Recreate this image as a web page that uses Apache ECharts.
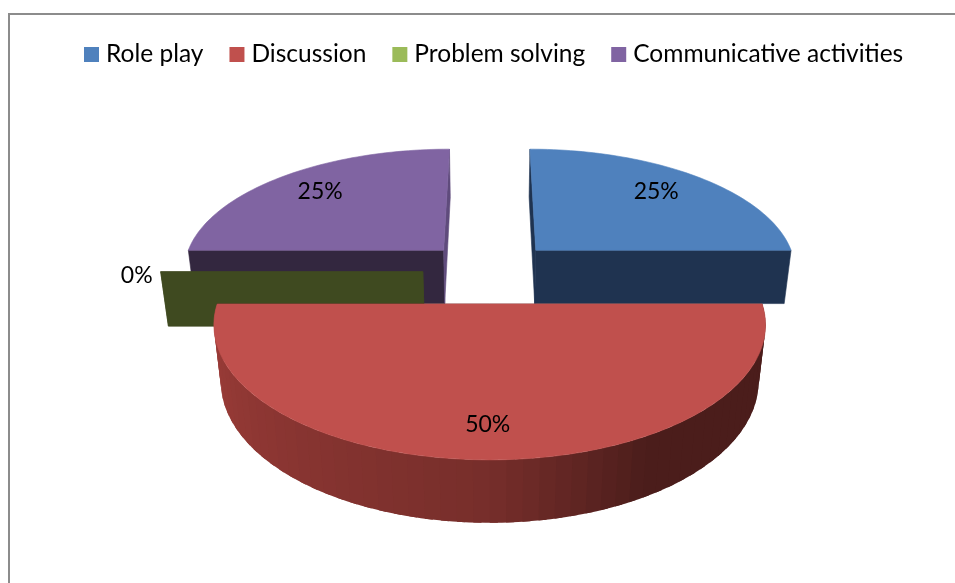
<!DOCTYPE html>
<html>
<head>
<meta charset="utf-8">
<style>html,body{margin:0;padding:0;background:#fff}#c{width:955px;height:583px}</style>
<script src="https://cdn.jsdelivr.net/npm/echarts@6/dist/echarts.min.js"></script>
</head>
<body>
<div id="c"></div>
<script>
const categories = ['Role play', 'Discussion', 'Problem solving', 'Communicative activities'];
const values = [25, 50, 0, 25];

const topColors = ['#4f81bd', '#c0504d', '#9bbb59', '#8064a2'];
const wallColors = ['#1f3350', '#4b1d1b', '#3f4a20', '#33273f'];
const edgeColors = ['#1f3350', '#4b1d1b', '#3f4a20', '#5f4b7c'];
const layerOrder = [2, 5, 3, 1];
const labelNudge = [[-5, 0], [-2, 5], [-3, 0], [2, 0]];
const FAMILY = 'Lato, Carlito, "Open Sans", sans-serif';

// Projection of the tilted, exploded pie
const R = 272.5, EXPLODE = 69.5, K = 0.000567, CX = 489.7;
const total = values.reduce((a, b) => a + b, 0);

function project(X, Y, t) {
  const w = 1 + K * Y + 0.025 * t;
  return [CX + X / w, (-549 - 8 * t) + (853 + 87 * t) / w];
}
function sectorAngles(i) {
  let s = 0;
  for (let j = 0; j < i; j++) s += values[j];
  return [s / total * 360, (s + values[i]) / total * 360];
}
function origin(i) {
  const [a0, a1] = sectorAngles(i);
  const m = (a0 + a1) / 2 * Math.PI / 180;
  return [EXPLODE * Math.sin(m), EXPLODE + EXPLODE * Math.cos(m)];
}
function rim(o, deg, f) {
  const a = deg * Math.PI / 180;
  return [o[0] + f * R * Math.sin(a), o[1] + f * R * Math.cos(a)];
}
// lit side wall colour: light on the left, fading to the dark colour past the front
function wallShade(deg, dark) {
  const d = parseInt(dark.slice(1), 16);
  const rgb = [d >> 16, (d >> 8) & 255, d & 255];
  let f;
  if (deg >= 180) f = 0.52 + (deg - 180) / 90 * 0.48;
  else f = Math.max(0, (deg - 150) / 30 * 0.52);
  return 'rgb(' + rgb.map(v => Math.round(v * (1 + 1.12 * f))).join(',') + ')';
}

function renderSlice(i) {
  return function (params, api) {
    const v = api.value(0);
    const [a0, a1] = sectorAngles(i);
    const o = origin(i);
    const children = [];
    const poly = (points, fill, edged) => children.push({
      type: 'polygon', shape: { points },
      style: edged ? { fill, stroke: fill, lineWidth: 0.6 } : { fill }
    });
    // radial walls
    [a0, a1].forEach(deg => {
      const p = rim(o, deg, 1);
      const col = (Math.abs(Math.sin(deg * Math.PI / 180)) < 0.01) ? edgeColors[i] : wallColors[i];
      poly([project(o[0], o[1], 0), project(p[0], p[1], 0), project(p[0], p[1], 1), project(o[0], o[1], 1)], col, true);
    });
    // outer curved wall (front half only); bands overlap so no seams show
    const b0 = Math.max(a0, 90), b1 = Math.min(a1, 270);
    if (b1 > b0) {
      const step = 3;
      const n = Math.ceil((b1 - b0) / step);
      for (let s = n - 1; s >= 0; s--) {
        const d0 = b0 + (b1 - b0) * s / n;
        const d1 = Math.min(b1, d0 + step);
        const dOver = Math.max(b0, d0 - 1.5);
        const p0 = rim(o, dOver, 1), p1 = rim(o, d1, 1), pm = rim(o, (dOver + d1) / 2, 1);
        poly([project(p0[0], p0[1], 0), project(pm[0], pm[1], 0), project(p1[0], p1[1], 0),
              project(p1[0], p1[1], 1), project(pm[0], pm[1], 1), project(p0[0], p0[1], 1)],
          wallShade(d0 + step / 2, wallColors[i]));
      }
    }
    // top face
    if (a1 > a0) {
      const pts = [project(o[0], o[1], 0)];
      const n = Math.ceil((a1 - a0) / 1.5);
      for (let s = 0; s <= n; s++) {
        const p = rim(o, a0 + (a1 - a0) * s / n, 1);
        pts.push(project(p[0], p[1], 0));
      }
      poly(pts, topColors[i], true);
    }
    // data label
    const mid = (a0 + a1) / 2;
    const lp = rim(o, mid, v > 0 ? 0.77 : 1.08);
    const sp = project(lp[0], lp[1], 0);
    children.push({
      type: 'text', z2: 100,
      style: {
        x: sp[0] + labelNudge[i][0], y: sp[1] + labelNudge[i][1] + (v > 0 ? 0 : 4),
        text: Math.round(v / total * 100) + '%',
        font: '23px ' + FAMILY, fill: '#000', align: 'center', verticalAlign: 'middle'
      }
    });
    return { type: 'group', children };
  };
}

const chart = echarts.init(document.getElementById('c'), null, { renderer: 'canvas' });
chart.setOption({
  animation: false,
  backgroundColor: '#ffffff',
  legend: {
    left: 84, top: 42, padding: 0,
    icon: 'rect',
    itemWidth: 15, itemHeight: 15, itemGap: 26,
    selectedMode: false,
    data: categories,
    textStyle: { fontFamily: FAMILY, fontSize: 24.5, color: '#000', padding: [0, 0, 0, 2] }
  },
  graphic: [{
    type: 'polyline', silent: true,
    shape: { points: [[9, 583], [9, 14], [955, 14]] },
    style: { stroke: '#8c8c8c', lineWidth: 2, fill: null }
  }],
  series: categories.map((name, i) => ({
    type: 'custom',
    name,
    coordinateSystem: 'none',
    silent: true,
    z: layerOrder[i] + 1,
    itemStyle: { color: topColors[i] },
    data: [[values[i]]],
    renderItem: renderSlice(i)
  }))
});
</script>
</body>
</html>
